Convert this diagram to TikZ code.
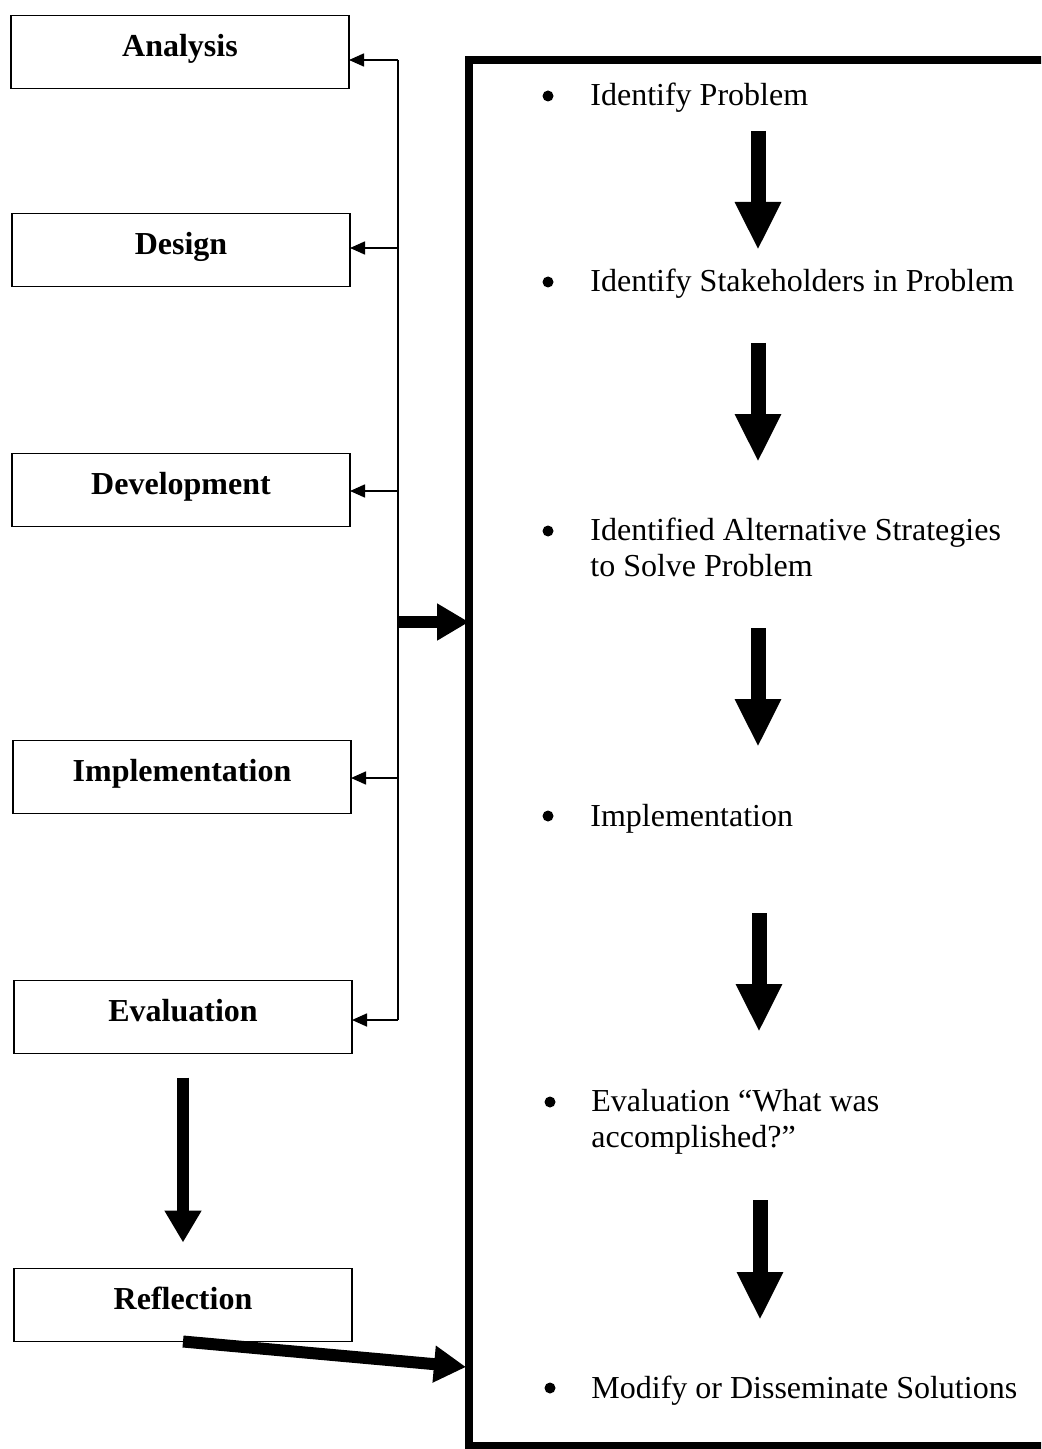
\documentclass[tikz,border=0pt]{standalone}
\usepackage{fontspec}
\setmainfont{Liberation Serif}
\usetikzlibrary{arrows.meta}
\begin{document}
\begin{tikzpicture}[x=0.5pt,y=-0.5pt,
  stagebox/.style={draw, line width=0.9pt, minimum width=169pt, minimum height=36.5pt,
    inner sep=0pt, outer sep=0pt, font=\fontsize{16}{18}\selectfont\bfseries,
    text height=0.66em, text depth=0.25em},
  thinline/.style={line width=0.8pt},
  thinarrow/.style={line width=0.8pt, -{Triangle[length=7.5pt,width=6.5pt]}},
  bigarrow/.style={line width=7.5pt, -{Triangle[length=24pt,width=21.5pt]}},
  midarrow/.style={line width=6pt, -{Triangle[length=16pt,width=17.5pt]}},
  itemtext/.style={anchor=base west, inner sep=0pt, align=left,
    font=\fontsize{16}{18}\selectfont},
  bulletdot/.style={circle, fill, inner sep=0pt, minimum size=5.5pt}
]
\useasboundingbox (0,0) rectangle (1041,1449);
\clip (0,0) rectangle (1041,1449);
\fill[white] (0,0) rectangle (1041,1449);

% left stage boxes
\node[stagebox] (analysis) at (180,52) {Analysis};
\node[stagebox] (design) at (181,250) {Design};
\node[stagebox] (development) at (181,490) {Development};
\node[stagebox] (implementation) at (182,777) {Implementation};
\node[stagebox] (evaluation) at (183,1017) {Evaluation};
\node[stagebox] (reflection) at (183,1305) {Reflection};

% right panel (right edge runs off the page)
\node[draw, line width=4pt, outer sep=0pt, inner sep=0pt,
      minimum width=296pt, minimum height=693pt] (panel) at (765,753) {};

% feedback bus
\coordinate (j1) at (398,60);
\coordinate (j2) at (398,248);
\coordinate (j3) at (398,491);
\coordinate (j4) at (398,778);
\coordinate (j5) at (398,1020);
\coordinate (jm) at (399,622);
\draw[thinline] (j1) -- (j5);
\draw[thinarrow] (j1) -- (j1 -| analysis.east);
\draw[thinarrow] (j2) -- (j2 -| design.east);
\draw[thinarrow] (j3) -- (j3 -| development.east);
\draw[thinarrow] (j4) -- (j4 -| implementation.east);
\draw[thinarrow] (j5) -- (j5 -| evaluation.east);
\draw[midarrow] (jm) -- (jm -| panel.west);

% evaluation -> reflection
\draw[midarrow, shorten <=12pt, shorten >=13pt] (evaluation.south) -- (reflection.north);

% reflection -> panel
\coordinate (rin) at (466,1367);
\draw[midarrow] (reflection.south) -- (rin);

% right items (multi-line nodes: base = last line)
\node[itemtext] (i1) at (590,106) {Identify Problem};
\node[itemtext] (i2) at (590,292) {Identify Stakeholders in Problem};
\node[itemtext] (i3) at (590,576) {Identified Alternative Strategies\\to Solve Problem};
\node[itemtext] (i4) at (590,826) {Implementation};
\node[itemtext] (i5) at (591,1147) {Evaluation ``What was\\accomplished?''};
\node[itemtext] (i6) at (591,1398) {Modify or Disseminate Solutions};

\node[bulletdot] (b1) at (548,96) {};
\node[bulletdot] (b2) at (548,282) {};
\node[bulletdot] (b3) at (548,531) {};
\node[bulletdot] (b4) at (548,816) {};
\node[bulletdot] (b5) at (550,1102) {};
\node[bulletdot] (b6) at (550,1388) {};

% downward arrows
\coordinate (a1s) at (758,131); \coordinate (a1e) at (758,250);
\coordinate (a2s) at (758,343); \coordinate (a2e) at (758,462);
\coordinate (a3s) at (758,628); \coordinate (a3e) at (758,747);
\coordinate (a4s) at (759,913); \coordinate (a4e) at (759,1032);
\coordinate (a5s) at (760,1200); \coordinate (a5e) at (760,1320);
\draw[bigarrow] (a1s) -- (a1e);
\draw[bigarrow] (a2s) -- (a2e);
\draw[bigarrow] (a3s) -- (a3e);
\draw[bigarrow] (a4s) -- (a4e);
\draw[bigarrow] (a5s) -- (a5e);
\end{tikzpicture}
\end{document}
